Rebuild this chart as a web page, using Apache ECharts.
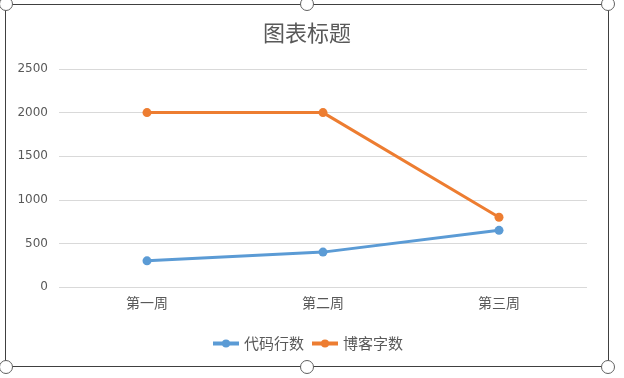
<!DOCTYPE html>
<html>
<head>
<meta charset="utf-8" />
<title>图表标题</title>
<style>
  html, body { margin: 0; padding: 0; background: #fff; }
  #page { position: relative; width: 624px; height: 378px; overflow: hidden; }
  #chart { position: absolute; left: 5px; top: 0; width: 604px; height: 378px; }
  #frame { position: absolute; left: 5px; top: 4px; width: 602px; height: 361px;
           border: 1.5px solid #404040; pointer-events: none; }
  .h { position: absolute; width: 12px; height: 12px; border-radius: 50%;
       background: #fff; border: 1px solid #606060; }
</style>
</head>
<body>
<div id="page">
  <div id="chart"></div>
  <div id="frame"></div>
  <div class="h" style="left:-1px;top:-3px"></div>
  <div class="h" style="left:300px;top:-3px"></div>
  <div class="h" style="left:601px;top:-3px"></div>
  <div class="h" style="left:-1px;top:360px"></div>
  <div class="h" style="left:300px;top:360px"></div>
  <div class="h" style="left:601px;top:360px"></div>
</div>
<script src="https://cdn.jsdelivr.net/npm/echarts@6/dist/echarts.min.js"></script>
<script>
  var weeks = ['第一周', '第二周', '第三周'];
  var codeLines = [300, 400, 650];
  var blogWords = [2000, 2000, 800];
  var seriesNames = ['代码行数', '博客字数'];

  var _font = '"Noto Sans CJK SC", "Microsoft YaHei", sans-serif';
  var myChart = echarts.init(document.getElementById('chart'));
  var option = {
    backgroundColor: '#fff',
    title: {
      text: '图表标题',
      left: 'center',
      top: 17,
      textStyle: { fontSize: 22, fontWeight: 'normal', color: '#595959', fontFamily: _font }
    },
    legend: {
      data: seriesNames,
      left: 'center',
      top: 331,
      itemWidth: 26,
      itemHeight: 10,
      itemGap: 6,
      lineStyle: { width: 4 },
      textStyle: { fontSize: 15, color: '#595959', fontFamily: _font }
    },
    grid: { left: 54, right: 22, top: 69, height: 218 },
    xAxis: {
      type: 'category',
      data: weeks,
      boundaryGap: true,
      axisLine: { show: false },
      axisTick: { show: false },
      axisLabel: { color: '#595959', fontSize: 14, margin: 9, fontFamily: _font }
    },
    yAxis: {
      type: 'value',
      min: 0,
      max: 2500,
      interval: 500,
      axisLine: { show: false },
      axisTick: { show: false },
      axisLabel: { color: '#595959', fontSize: 12, margin: 11, fontFamily: 'DejaVu Sans',
                   formatter: function (v) { return String(v); } },
      splitLine: { lineStyle: { color: '#d9d9d9', width: 1 } }
    },
    series: [{
      name: seriesNames[0],
      type: 'line',
      data: codeLines,
      symbol: 'circle',
      symbolSize: 9,
      color: '#5b9bd5',
      lineStyle: { width: 3 }
    }, {
      name: seriesNames[1],
      type: 'line',
      data: blogWords,
      symbol: 'circle',
      symbolSize: 9,
      color: '#ed7d31',
      lineStyle: { width: 3 }
    }]
  };
  myChart.setOption(option);
</script>
</body>
</html>
